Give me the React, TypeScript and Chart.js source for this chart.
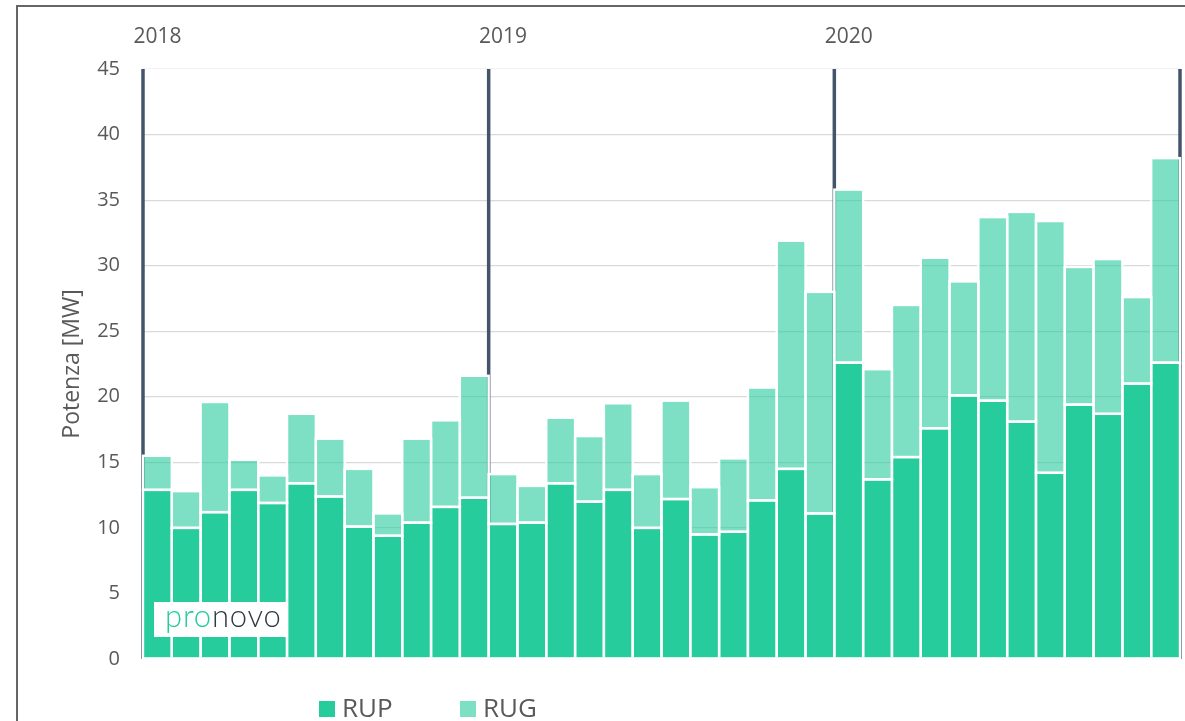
import React, { useEffect, useRef } from 'react';
import { Chart, registerables } from 'chart.js';

Chart.register(...registerables);

const categories = [
  '2018-01', '2018-02', '2018-03', '2018-04', '2018-05', '2018-06',
  '2018-07', '2018-08', '2018-09', '2018-10', '2018-11', '2018-12',
  '2019-01', '2019-02', '2019-03', '2019-04', '2019-05', '2019-06',
  '2019-07', '2019-08', '2019-09', '2019-10', '2019-11', '2019-12',
  '2020-01', '2020-02', '2020-03', '2020-04', '2020-05', '2020-06',
  '2020-07', '2020-08', '2020-09', '2020-10', '2020-11', '2020-12',
];

const yearLabels = ['2018', '2019', '2020'];
const yearStartIndex = [0, 12, 24];

const rupValues = [
  12.9, 10.0, 11.2, 12.9, 11.9, 13.4, 12.4, 10.1, 9.4, 10.4, 11.6, 12.3,
  10.3, 10.4, 13.4, 12.0, 12.9, 10.0, 12.2, 9.5, 9.7, 12.1, 14.5, 11.1,
  22.6, 13.7, 15.4, 17.6, 20.1, 19.7, 18.1, 14.2, 19.4, 18.7, 21.0, 22.6,
];

const rugValues = [
  2.6, 2.8, 8.4, 2.3, 2.1, 5.3, 4.4, 4.4, 1.7, 6.4, 6.6, 9.3,
  3.8, 2.8, 5.0, 5.0, 6.6, 4.1, 7.5, 3.6, 5.6, 8.6, 17.4, 16.9,
  13.2, 8.4, 11.6, 13.0, 8.7, 14.0, 16.0, 19.2, 10.5, 11.8, 6.6, 15.6,
];

const seriesNames = ['RUP', 'RUG'];
const yTitle = 'Potenza [MW]';
const logoParts = ['pro', 'novo'];

const RUP_COLOR = '#26CC9C';
const RUG_COLOR = 'rgba(38,204,156,0.6)';
const TEXT_COLOR = '#595959';
const FONT = '"Open Sans", "Noto Sans", sans-serif';

const yearLinesPlugin = {
  id: 'yearLines',
  beforeDatasetsDraw(chart: any) {
    const meta = chart.getDatasetMeta(0);
    const els = meta.data;
    if (!els.length) return;
    const { top, bottom } = chart.chartArea;
    const ctx = chart.ctx;
    const xs: number[] = [];
    yearStartIndex.forEach((i) => {
      const el = els[i];
      xs.push(el.x - el.width / 2);
    });
    const last = els[els.length - 1];
    xs.push(last.x + last.width / 2);
    ctx.save();
    ctx.strokeStyle = '#44546A';
    ctx.lineWidth = 3.5;
    xs.forEach((x) => {
      ctx.beginPath();
      ctx.moveTo(x, top);
      ctx.lineTo(x, bottom);
      ctx.stroke();
    });
    ctx.restore();
  },
};

const barOutlinePlugin = {
  id: 'barOutline',
  afterDatasetsDraw(chart: any) {
    const ctx = chart.ctx;
    ctx.save();
    ctx.strokeStyle = '#ffffff';
    ctx.lineWidth = 2.4;
    chart.data.datasets.forEach((_: any, di: number) => {
      const meta = chart.getDatasetMeta(di);
      meta.data.forEach((el: any) => {
        const { x, y, base, width } = el.getProps(['x', 'y', 'base', 'width'], true);
        const t = Math.min(y, base);
        const h = Math.abs(base - y);
        ctx.strokeRect(x - width / 2, t, width, h);
      });
    });
    ctx.restore();
  },
};

const overlayPlugin = {
  id: 'overlay',
  afterDraw(chart: any) {
    const ctx = chart.ctx;
    ctx.save();
    // legend
    const colors = [RUP_COLOR, RUG_COLOR];
    const itemX = [319, 460];
    ctx.font = `26px ${FONT}`;
    ctx.textBaseline = 'alphabetic';
    seriesNames.forEach((name, i) => {
      ctx.fillStyle = colors[i];
      ctx.fillRect(itemX[i], 701, 16, 16);
      ctx.fillStyle = TEXT_COLOR;
      ctx.fillText(name, itemX[i] + 23, 717);
    });
    // logo
    ctx.fillStyle = '#ffffff';
    ctx.fillRect(154, 602, 133, 35);
    ctx.font = `300 31px Lato, ${FONT}`;
    try {
      (ctx as any).letterSpacing = '0.8px';
    } catch (e) {
      /* ignore */
    }
    ctx.fillStyle = RUP_COLOR;
    ctx.fillText(logoParts[0], 165, 627);
    const w = ctx.measureText(logoParts[0]).width;
    ctx.fillStyle = '#2E3A44';
    ctx.fillText(logoParts[1], 165 + w, 627);
    ctx.restore();
  },
};

export default function App() {
  const canvasRef = useRef<HTMLCanvasElement | null>(null);

  useEffect(() => {
    const canvas = canvasRef.current;
    if (!canvas) return;
    Chart.defaults.font.family = FONT;
    const chart = new Chart(canvas, {
      type: 'bar',
      data: {
        labels: categories,
        datasets: [
          {
            label: seriesNames[0],
            data: rupValues,
            backgroundColor: RUP_COLOR,
            borderWidth: 0,
            barPercentage: 1,
            categoryPercentage: 1,
          },
          {
            label: seriesNames[1],
            data: rugValues,
            backgroundColor: RUG_COLOR,
            borderWidth: 0,
            barPercentage: 1,
            categoryPercentage: 1,
          },
        ],
      },
      options: {
        responsive: false,
        animation: false,
        layout: { padding: { left: 40, right: 5, top: 0, bottom: 62 } },
        plugins: {
          legend: { display: false },
          tooltip: { enabled: false },
        },
        scales: {
          x: {
            stacked: true,
            display: false,
            offset: true,
          },
          x2: {
            type: 'category',
            position: 'top',
            offset: true,
            grid: { display: false, drawTicks: false },
            border: { display: false },
            ticks: {
              autoSkip: false,
              maxRotation: 0,
              padding: 19,
              color: TEXT_COLOR,
              font: { size: 21 },
              callback: (_v: any, idx: number) => {
                const k = yearStartIndex.indexOf(idx);
                return k >= 0 ? yearLabels[k] : '';
              },
            },
            afterFit: (scale: any) => {
              scale.height = 69;
            },
          },
          y: {
            stacked: true,
            min: 0,
            max: 45,
            ticks: {
              stepSize: 5,
              padding: 23,
              color: TEXT_COLOR,
              font: { size: 20 },
            },
            grid: {
              drawTicks: false,
              color: (ctx: any) => (ctx.tick && ctx.tick.value === 45 ? '#f3f3f3' : '#d9d9d9'),
              lineWidth: 1.2,
            },
            border: { display: false },
            title: {
              display: true,
              text: yTitle,
              color: TEXT_COLOR,
              font: { size: 23 },
              padding: { top: 19, bottom: 0 },
            },
            afterFit: (scale: any) => {
              scale.width = 103;
            },
          },
        },
      },
      plugins: [yearLinesPlugin, barOutlinePlugin, overlayPlugin],
    } as any);
    return () => chart.destroy();
  }, []);

  return (
    <div
      style={{
        position: 'absolute',
        left: 0,
        top: 0,
        width: 1185,
        height: 721,
        overflow: 'hidden',
        background: '#ffffff',
      }}
    >
      <div
        style={{
          position: 'absolute',
          left: 16,
          top: 5,
          width: 1400,
          height: 900,
          borderLeft: '2px solid #666666',
          borderTop: '2px solid #666666',
        }}
      />
      <canvas
        ref={canvasRef}
        width={1185}
        height={721}
        style={{ position: 'absolute', left: 0, top: 0, width: 1185, height: 721 }}
      />
    </div>
  );
}
